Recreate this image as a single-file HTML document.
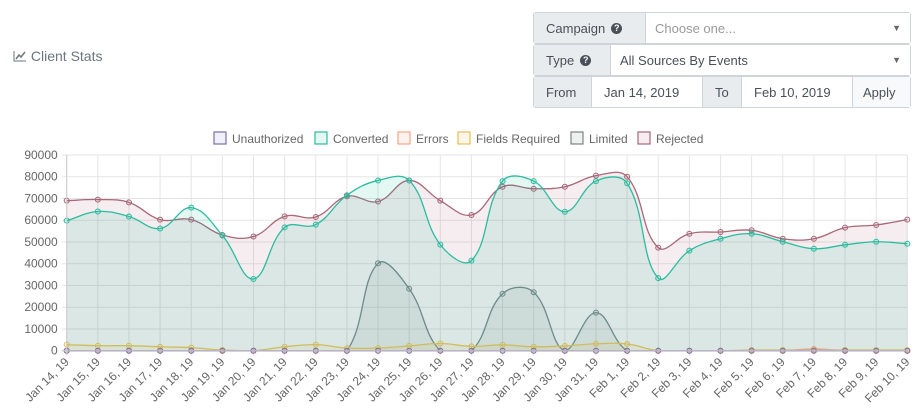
<!DOCTYPE html>
<html><head><meta charset="utf-8">
<style>
body{margin:0;width:922px;height:417px;background:#fff;font-family:"Liberation Sans",sans-serif;overflow:hidden;position:relative}
.title{position:absolute;left:13px;top:48px;font-size:14px;color:#6c757d}
.grp{position:absolute;display:flex;border:1px solid #ced4da;border-radius:3px;font-size:13px;color:#495057;box-sizing:border-box}
.lab{background:#e9ecef;display:flex;align-items:center;padding:0 12px;border-right:1px solid #ced4da;color:#495057}
.inp{display:flex;align-items:center;padding:0 9px;background:#fff;flex:1}
.q{display:inline-block;width:11px;height:11px;border-radius:50%;background:#495057;color:#fff;font-size:9px;line-height:11px;text-align:center;margin-left:6px;font-weight:bold}
.arr{margin-left:auto;font-size:9px;color:#666}
</style></head><body>
<div class="title"><svg width="14" height="12" style="vertical-align:-1px"><path d="M1 1V11H13" stroke="#6c757d" fill="none"/><path d="M3 9L6 5L8 7L12 2" stroke="#6c757d" fill="none" stroke-width="1.5"/></svg> Client Stats</div>
<div class="grp" style="left:533px;top:12px;width:378px;height:32px"><div class="lab" style="width:112px;box-sizing:border-box">Campaign<span class="q">?</span></div><div class="inp" style="color:#999">Choose one...<span class="arr">▼</span></div></div>
<div class="grp" style="left:533px;top:44px;width:378px;height:32px"><div class="lab" style="width:77px;box-sizing:border-box">Type<span class="q">?</span></div><div class="inp">All Sources By Events<span class="arr">▼</span></div></div>
<div class="grp" style="left:533px;top:76px;width:378px;height:32px">
<div class="lab" style="width:58px;box-sizing:border-box">From</div>
<div class="inp" style="flex:none;width:110px;box-sizing:border-box;padding-left:12px">Jan 14, 2019</div>
<div class="lab" style="width:40px;box-sizing:border-box;border-left:1px solid #ced4da">To</div>
<div class="inp" style="flex:none;width:110px;box-sizing:border-box;padding-left:12px">Feb 10, 2019</div>
<div class="lab" style="flex:1;border-left:1px solid #ced4da;border-right:none;background:#f8f9fa;padding:0 10px">Apply</div>
</div>
<svg id="chart" width="922" height="417" style="position:absolute;left:0;top:0"></svg>
<script>
const categories=["Jan 14, 19","Jan 15, 19","Jan 16, 19","Jan 17, 19","Jan 18, 19","Jan 19, 19","Jan 20, 19","Jan 21, 19","Jan 22, 19","Jan 23, 19","Jan 24, 19","Jan 25, 19","Jan 26, 19","Jan 27, 19","Jan 28, 19","Jan 29, 19","Jan 30, 19","Jan 31, 19","Feb 1, 19","Feb 2, 19","Feb 3, 19","Feb 4, 19","Feb 5, 19","Feb 6, 19","Feb 7, 19","Feb 8, 19","Feb 9, 19","Feb 10, 19"];
const unauthorized=[0,0,0,0,0,0,0,0,0,0,0,0,0,0,0,0,0,0,0,0,0,0,0,0,0,0,0,0];
const converted=[59800,64000,61700,56200,65800,53000,33000,56700,58000,71500,78300,78300,48800,41400,78000,78000,63900,78000,77000,33400,46000,51500,53800,50100,46900,48700,50100,49200];
const errors=[0,0,0,0,0,0,0,0,0,0,0,0,0,0,0,0,0,0,0,0,0,0,0,0,800,0,0,0];
const fieldsRequired=[2800,2300,2300,1800,1400,300,0,1800,2800,1200,1200,2200,3300,2000,2700,1800,2200,3200,3100,0,0,0,300,300,300,300,300,300];
const limited=[0,0,0,0,0,0,0,0,0,0,40200,28500,0,0,26200,26900,0,17500,0,0,0,0,0,0,0,0,0,0];
const rejected=[69000,69500,68200,60300,60300,53200,52500,61800,61500,71000,68600,78300,69000,62400,75400,74500,75400,80500,80000,47400,53800,54600,55400,51500,51500,56600,57800,60300];
const yTicks=[0,10000,20000,30000,40000,50000,60000,70000,80000,90000];
const seriesNames=["Unauthorized","Converted","Errors","Fields Required","Limited","Rejected"];

const svg=document.getElementById('chart');const NS='http://www.w3.org/2000/svg';
const X0=66.7,X1=907.3,Y0=350.7,Y1=155,YMAX=90000;
const xs=i=>X0+(X1-X0)*i/(categories.length-1);
const ys=v=>Y0-(Y0-Y1)*v/YMAX;
function mk(t,a,p){const e=document.createElementNS(NS,t);for(const k in a)e.setAttribute(k,a[k]);(p||svg).appendChild(e);return e;}
yTicks.forEach(v=>{const l=mk('line',{x1:X0-5,x2:X1,y1:ys(v),y2:ys(v),stroke:'#e5e5e5'});

const t=mk('text',{x:X0-9,y:ys(v)+4,'text-anchor':'end','font-size':12,fill:'#666'});t.textContent=v;
});
categories.forEach((c,i)=>{const l=mk('line',{x1:xs(i),x2:xs(i),y1:Y1,y2:Y0+5,stroke:'#e5e5e5'});

const t=mk('text',{transform:`translate(${xs(i)+3},${Y0+12}) rotate(-45)`,'text-anchor':'end','font-size':12,fill:'#666'});t.textContent=c;
});
function path(vals){const pts=vals.map((v,i)=>[xs(i),ys(v)]);const T=0.4;let d=`M${pts[0][0]},${pts[0][1]}`;
const cps=pts.map((p,i)=>{const pr=pts[Math.max(0,i-1)],nx=pts[Math.min(pts.length-1,i+1)];
const d01=Math.hypot(p[0]-pr[0],p[1]-pr[1]),d12=Math.hypot(nx[0]-p[0],nx[1]-p[1]);
let fa=d01/(d01+d12)||0,fb=d12/(d01+d12)||0;fa*=T;fb*=T;
return{p:[p[0]-fa*(nx[0]-pr[0]),p[1]-fa*(nx[1]-pr[1])],n:[p[0]+fb*(nx[0]-pr[0]),p[1]+fb*(nx[1]-pr[1])]};});
for(let i=1;i<pts.length;i++){let a=cps[i-1].n,b=cps[i].p;a=[a[0],Math.min(a[1],Y0)];b=[b[0],Math.min(b[1],Y0)];d+=`C${a[0]},${a[1]} ${b[0]},${b[1]} ${pts[i][0]},${pts[i][1]}`;}
return d;}
const styles=[
 {data:unauthorized,line:'#7a6fa8',fill:'rgba(110,110,180,0.1)',name:'unauthorized'},
 {data:converted,line:'#2bbc9f',fill:'rgba(26,188,156,0.12)',name:'converted'},
 {data:errors,line:'#f5a58a',fill:'rgba(250,150,120,0.12)',name:'errors'},
 {data:fieldsRequired,line:'#e9bd55',fill:'rgba(245,190,70,0.12)',name:'fields-required'},
 {data:limited,line:'#7c8583',fill:'rgba(120,130,130,0.12)',name:'limited'},
 {data:rejected,line:'#a86878',fill:'rgba(168,90,110,0.11)',name:'rejected'}];
for(let s=styles.length-1;s>=0;s--){const st=styles[s];const d=path(st.data);
const a=mk('path',{d:d+`L${xs(categories.length-1)},${Y0}L${X0},${Y0}Z`,fill:st.fill,stroke:'none'});

const l=mk('path',{d:d,fill:'none',stroke:st.line,'stroke-width':1.3});

st.data.forEach((v,i)=>{const c=mk('circle',{cx:xs(i),cy:ys(v),r:2.5,fill:st.fill,stroke:st.line,'stroke-width':1});
});}
mk('line',{x1:X0,x2:X0,y1:Y1,y2:Y0+5,stroke:'#ccc'});
mk('line',{x1:X0-5,x2:X1,y1:Y0,y2:Y0,stroke:'#ccc'});
const lx=[214,315,398,458,571,638];
seriesNames.forEach((n,i)=>{const st=styles[i];const g=mk('g',{});

mk('rect',{x:lx[i],y:132,width:12,height:12,fill:st.fill,stroke:st.line,'stroke-width':1.2},g);
const t=mk('text',{x:lx[i]+18,y:143,'font-size':12,fill:'#666',textLength:0},g);t.removeAttribute('textLength');t.textContent=n;});
</script>
</body></html>
